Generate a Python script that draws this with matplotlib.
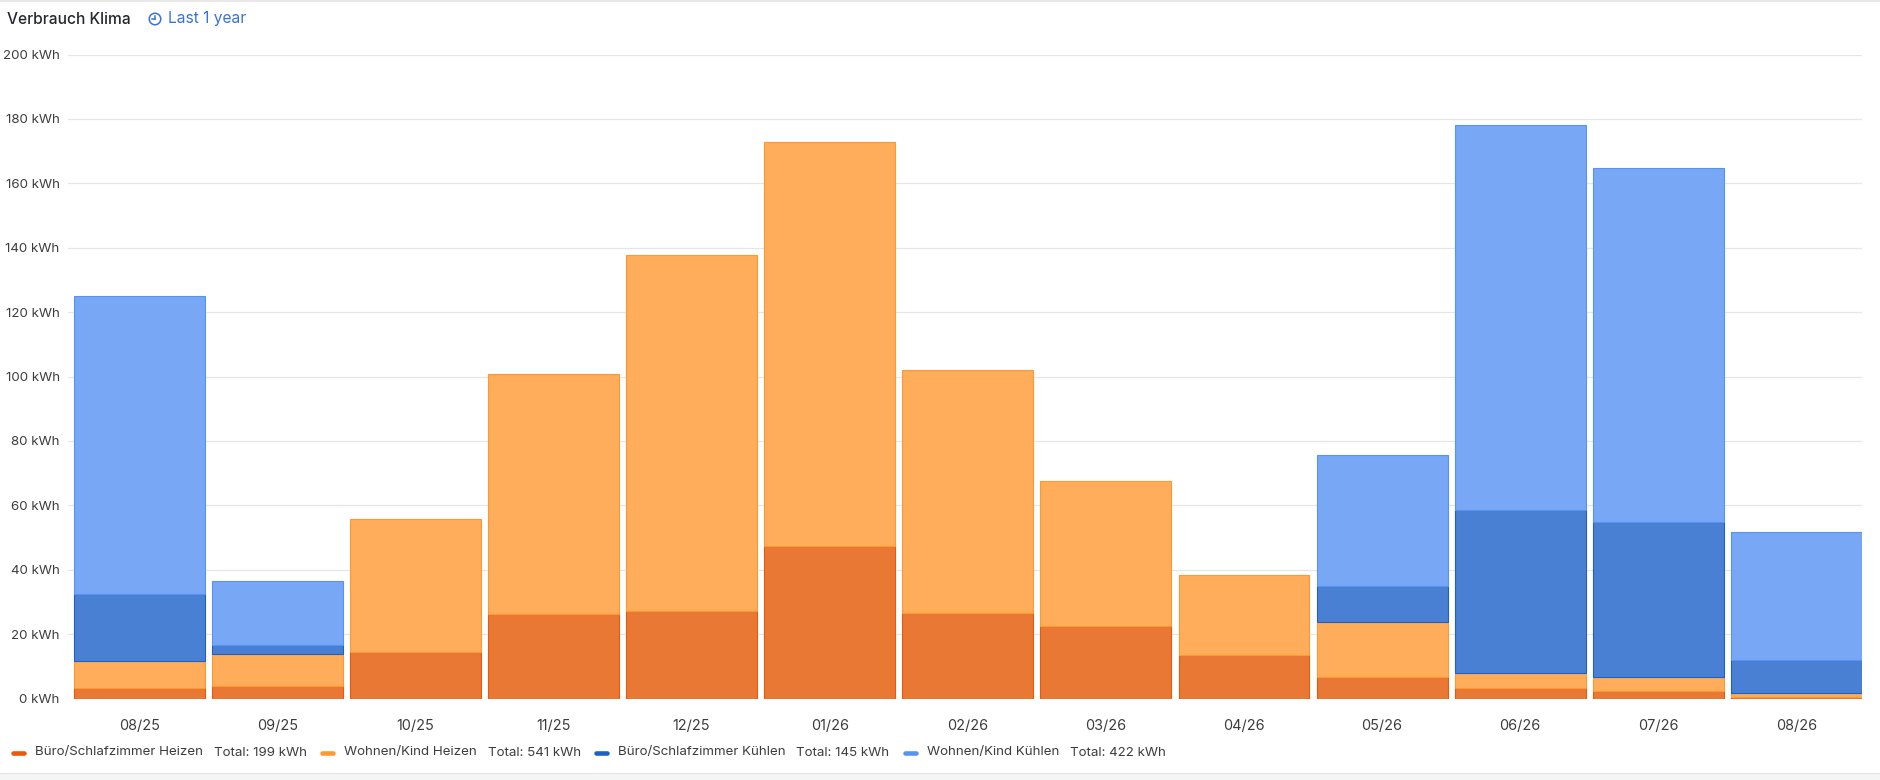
import numpy as np
import matplotlib
matplotlib.use("Agg")
import matplotlib.pyplot as plt
from matplotlib.lines import Line2D
from matplotlib.patches import Ellipse, Rectangle

plt.rcParams["font.family"] = ["Inter", "DejaVu Sans"]

W, H = 1880, 780

months = ["08/25", "09/25", "10/25", "11/25", "12/25", "01/26", "02/26",
          "03/26", "04/26", "05/26", "06/26", "07/26", "08/26"]

buero_heizen = [3.3, 4.0, 14.5, 26.3, 27.2, 47.4, 26.5, 22.4, 13.6, 6.7, 3.2, 2.3, 0.6]
wohnen_heizen = [8.2, 9.8, 41.4, 74.4, 110.4, 125.3, 75.4, 45.1, 24.7, 17.2, 4.6, 4.4, 1.2]
buero_kuehlen = [20.9, 2.9, 0, 0, 0, 0, 0, 0, 0, 11.1, 50.6, 48.0, 10.1]
wohnen_kuehlen = [92.5, 19.8, 0, 0, 0, 0, 0, 0, 0, 40.7, 119.7, 110.0, 39.7]

series_names = ["Büro/Schlafzimmer Heizen", "Wohnen/Kind Heizen",
                "Büro/Schlafzimmer Kühlen", "Wohnen/Kind Kühlen"]
series_totals = [199, 541, 145, 422]

y_ticks = [0, 20, 40, 60, 80, 100, 120, 140, 160, 180, 200]

fills = ["#e97834", "#ffad5a", "#4a80d4", "#77a7f5"]
edges = ["#e8590c", "#ff9830", "#1f60c4", "#5794f2"]


def px(x, y):
    # pixel position (from top-left) -> figure fraction
    return x / W, 1 - y / H


fig = plt.figure(figsize=(W / 100, H / 100), dpi=100)
ax = fig.add_axes([68 / W, 81.5 / H, (1862 - 68) / W, (698.5 - 54.5) / H])

x = np.arange(len(months))
bottom = np.zeros(len(months))
for vals, fc, ec in zip([buero_heizen, wohnen_heizen, buero_kuehlen, wohnen_kuehlen], fills, edges):
    vals = np.array(vals, dtype=float)
    keep = vals > 0
    ax.bar(x[keep], vals[keep], bottom=bottom[keep], width=0.948,
           color=fc, edgecolor=ec, linewidth=0.8, zorder=3)
    bottom += vals

ax.set_xlim(-0.515, 12.475)
ax.set_ylim(0, 200)
ax.set_yticks(y_ticks)
ax.set_yticklabels([f"{v} kWh" for v in y_ticks])
ax.set_xticks(x)
ax.set_xticklabels(months)
ax.tick_params(axis="y", length=0, pad=6, labelsize=9.6, labelcolor="#3d3d3d")
ax.tick_params(axis="x", length=0, pad=15, labelsize=10.4, labelcolor="#3d3d3d")
ax.grid(axis="y", color="#e6e6e6", linewidth=0.9, zorder=0)
for s in ax.spines.values():
    s.set_visible(False)

# title + time range
fig.text(*px(7, 19), "Verbrauch Klima", fontsize=11.2, fontweight="medium",
         color="#24292e", va="center", ha="left")
fig.text(*px(168, 19), "Last 1 year", fontsize=11.2, color="#3871dc",
         va="center", ha="left")
cx, cy = px(155, 19)
fig.add_artist(Ellipse((cx, cy), 11.5 / W, 11.5 / H, transform=fig.transFigure,
                       fill=False, edgecolor="#3871dc", linewidth=1.1))
fig.add_artist(Line2D([cx, cx], [cy, cy + 3.5 / H], transform=fig.transFigure,
                      color="#3871dc", linewidth=1.1))
fig.add_artist(Line2D([cx, cx - 3 / W], [cy, cy], transform=fig.transFigure,
                      color="#3871dc", linewidth=1.1))

# panel borders
fig.add_artist(Line2D([0, 1], [1 - 0.5 / H, 1 - 0.5 / H], transform=fig.transFigure,
                      color="#e4e4e4", linewidth=1.2))
fig.add_artist(Rectangle((0, 0), 1, 7 / H, transform=fig.transFigure,
                         facecolor="#f4f5f5", edgecolor="none"))
fig.add_artist(Line2D([0, 1], [7 / H, 7 / H], transform=fig.transFigure,
                      color="#e4e4e4", linewidth=0.8))

# legend
fig.canvas.draw()
renderer = fig.canvas.get_renderer()
ly = 752.5
xpos = 11
for name, total, col in zip(series_names, series_totals, edges):
    x0, y0 = px(xpos + 2, ly)
    x1, _ = px(xpos + 13, ly)
    fig.add_artist(Line2D([x0, x1], [y0, y0], transform=fig.transFigure,
                          color=col, linewidth=3.3, solid_capstyle="round"))
    xpos += 24
    t = fig.text(*px(xpos, ly), name, fontsize=9.6, color="#3d3d3d",
                 va="center", ha="left")
    xpos += t.get_window_extent(renderer).width + 11
    t = fig.text(*px(xpos, ly), f"Total: {total} kWh", fontsize=9.6,
                 color="#3d3d3d", va="center", ha="left")
    xpos += t.get_window_extent(renderer).width + 13

fig.savefig("out.png", dpi=100)
